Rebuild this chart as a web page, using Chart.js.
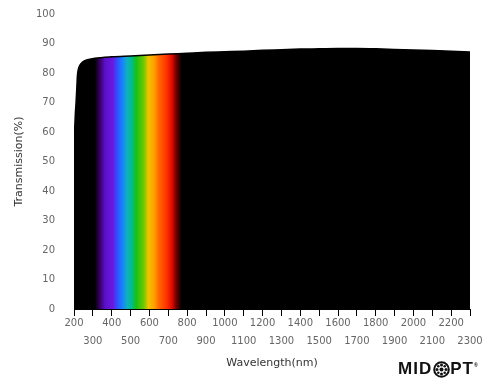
<!DOCTYPE html>
<html>
<head>
<meta charset="utf-8">
<script src="https://cdn.jsdelivr.net/npm/chart.js@4"></script>
<style>
  body { margin: 0; background: #fff; }
  #wrap { position: relative; width: 500px; height: 388px; }
  #logo { position: absolute; left: 398px; top: 360px; height: 18px; display: flex; align-items: center;
          font: bold 17px "Liberation Sans", Arial, sans-serif; color: #111; letter-spacing: 1px; }
  #logo sup { font-size: 5px; align-self: flex-start; margin-top: 2px; }
</style>
</head>
<body>
<div id="wrap">
  <canvas id="transChart" width="500" height="388"></canvas>
  <div id="logo">
    <span>MID</span>
    <svg width="17" height="17" viewBox="0 0 17 17" style="margin:0 0 0 1px">
      <circle cx="8.5" cy="8.5" r="7.3" fill="none" stroke="#111" stroke-width="2"/>
      <circle cx="8.5" cy="8.5" r="2" fill="#111"/>
      <g fill="#111">
        <circle cx="8.5" cy="4" r="1.5"/><circle cx="8.5" cy="13" r="1.5"/>
        <circle cx="4" cy="8.5" r="1.5"/><circle cx="13" cy="8.5" r="1.5"/>
        <circle cx="5.3" cy="5.3" r="1.3"/><circle cx="11.7" cy="5.3" r="1.3"/>
        <circle cx="5.3" cy="11.7" r="1.3"/><circle cx="11.7" cy="11.7" r="1.3"/>
      </g>
    </svg>
    <span>PT</span><sup>®</sup>
  </div>
</div>
<script>
// Transmission curve (nm / %)
const wavelengths = [200, 203, 207, 211, 215, 218, 222, 230, 245, 270, 310, 400, 500, 600, 700, 800, 900, 1000,
  1100, 1200, 1300, 1400, 1500, 1600, 1700, 1800, 1900, 2000, 2100, 2200, 2300];
const transmission = [57, 60, 66, 70, 75, 79, 81, 82.5, 83.7, 84.5, 85, 85.5, 85.8, 86.1, 86.4, 86.7, 87, 87.2,
  87.4, 87.7, 87.9, 88.1, 88.2, 88.3, 88.3, 88.2, 88, 87.8, 87.6, 87.4, 87.1];

// visible band colours painted under the curve
const spectrumNm = [310, 338, 365, 405, 430, 455, 482, 505, 530, 570, 595, 625, 650, 690, 720, 742, 772];
const spectrumColors = ['#000000', '#3a0068', '#5a10c8', '#6a18e0', '#3050ff', '#1880ff', '#10b0c0', '#00bc90',
  '#18c018', '#70c800', '#f0c400', '#ffa000', '#ff6800', '#ff3400', '#dd0a00', '#700000', '#000000'];

const yTicks = [0, 10, 20, 30, 40, 50, 60, 70, 80, 90, 100];

function spectrumFill(context) {
  const chart = context.chart;
  const area = chart.chartArea;
  if (!area) return '#000';
  const x = chart.scales.x;
  const grad = chart.ctx.createLinearGradient(area.left, 0, area.right, 0);
  const w = area.right - area.left;
  spectrumNm.forEach((nm, i) => {
    const pos = (x.getPixelForValue(nm) - area.left) / w;
    grad.addColorStop(Math.min(1, Math.max(0, pos)), spectrumColors[i]);
  });
  return grad;
}

const ctx = document.getElementById('transChart').getContext('2d');
new Chart(ctx, {
  type: 'line',
  data: {
    datasets: [{
      data: wavelengths.map((w, i) => ({ x: w, y: transmission[i] })),
      borderColor: '#000',
      borderWidth: 1.5,
      backgroundColor: spectrumFill,
      fill: 'origin',
      pointRadius: 0,
      cubicInterpolationMode: 'monotone'
    }]
  },
  options: {
    responsive: false,
    animation: false,
    layout: { padding: { top: 14, right: 30, left: 0, bottom: 0 } },
    plugins: { legend: { display: false }, tooltip: { enabled: false } },
    scales: {
      x: {
        type: 'linear',
        min: 200,
        max: 2300,
        afterFit: (s) => { s.height = 79; },
        border: { display: true, color: '#000', width: 1 },
        grid: { drawOnChartArea: false, drawTicks: true, tickLength: 7, color: '#000', tickWidth: 1 },
        ticks: {
          stepSize: 100,
          autoSkip: false,
          maxRotation: 0,
          padding: -2,
          color: '#666',
          font: { family: 'DejaVu Sans', size: 10, lineHeight: 1.85 },
          callback: (v) => (v / 100) % 2 === 0 ? [String(v), ''] : ['', String(v)]
        },
        title: {
          display: true,
          text: 'Wavelength(nm)',
          color: '#333',
          font: { family: 'DejaVu Sans', size: 11 },
          padding: { top: 0, bottom: 18 }
        }
      },
      y: {
        min: 0,
        max: 100,
        afterFit: (s) => { s.width = 74; },
        afterBuildTicks: (s) => { s.ticks = yTicks.map(v => ({ value: v })); },
        border: { display: false },
        // invisible tick marks keep the labels clear of the plot
        grid: { drawOnChartArea: false, drawTicks: true, tickLength: 19, color: 'rgba(0,0,0,0)' },
        ticks: {
          padding: 0,
          color: '#666',
          font: { family: 'DejaVu Sans', size: 10 }
        },
        title: {
          display: true,
          text: 'Transmission(%)',
          color: '#333',
          font: { family: 'DejaVu Sans', size: 11 },
          padding: { top: 13, bottom: 0 }
        }
      }
    }
  }
});
</script>
</body>
</html>
